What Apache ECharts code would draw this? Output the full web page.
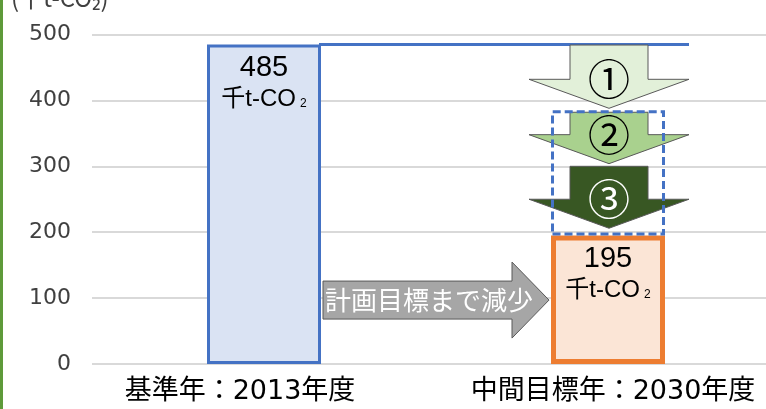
<!DOCTYPE html>
<html>
<head>
<meta charset="utf-8">
<script src="https://cdn.jsdelivr.net/npm/echarts@6/dist/echarts.min.js"></script>
<style>html,body{margin:0;padding:0;background:#fff;}#c{width:766px;height:409px;}</style>
</head>
<body>
<div id="c"></div>
<script>
// ---- data ----
const categories = ['基準年：2013年度', '中間目標年：2030年度'];
const emissions = [485, 195];            // 千t-CO2
const remainingGap = ['-', 190];         // dashed box stacked above 2030 bar (195 -> 385)
const yMin = 0, yMax = 500, yStep = 100;
const stepLabels = ['①', '②', '③'];
const stepFrom = [484, 382, 300];        // arrow body top (value)
const stepTo = [388, 304, 206];          // arrow tip (value)
const baselineValue = 485;
const reductionText = '計画目標まで減少';
const reductionLevel = 97;               // value at which the grey arrow sits
const unitTitle = '(千t-CO₂)';

// ---- styles ----
const CJK = '"Noto Sans CJK JP", "Noto Sans", sans-serif';
const LAT = '"Liberation Sans", "Noto Sans CJK JP", sans-serif';
const NUM = '"DejaVu Sans", "Noto Sans CJK JP", sans-serif';
const BAR_W = 114;
const stepFill = ['#E2F0D9', '#A9D18E', '#385723'];
const stepText = ['#000', '#000', '#fff'];

const chart = echarts.init(document.getElementById('c'), null, {renderer: 'canvas'});

const barLabel = {
  show: true,
  position: 'insideTop',
  distance: 8,
  formatter: p => `{v|${p.value}}\n{u|千t-CO}{s|2}`,
  rich: {
    v: {fontSize: 29, lineHeight: 32, fontFamily: LAT, color: '#000'},
    u: {fontSize: 24, lineHeight: 30, fontFamily: LAT, color: '#000'},
    s: {fontSize: 12, lineHeight: 30, fontFamily: LAT, color: '#000', padding: [8, 0, 0, 4]}
  }
};

const option = {
  animation: false,
  backgroundColor: '#fff',
  title: {
    text: unitTitle, left: 6, top: -19,
    textStyle: {fontSize: 24, fontWeight: 'normal', color: '#404040', fontFamily: CJK}
  },
  graphic: [{
    type: 'line', shape: {x1: 1.5, y1: 0, x2: 1.5, y2: 409},
    style: {stroke: '#5E9A3A', lineWidth: 3}, silent: true
  }],
  grid: {left: 92, top: 34.5, width: 688, height: 329.5, outerBoundsMode: 'none', containLabel: false},
  xAxis: {
    type: 'category', data: categories,
    axisLine: {show: false}, axisTick: {show: false},
    axisLabel: {
      margin: 14, interval: 0,
      formatter: (v, i) => i === 0 ? `{a|${v}}` : `{b|${v}}`,
      rich: {
        a: {fontSize: 27, color: '#000', fontFamily: NUM, padding: [0, 48, 0, 0]},
        b: {fontSize: 27, color: '#000', fontFamily: NUM, padding: [0, 0, 0, 10]}
      }
    }
  },
  yAxis: {
    type: 'value', min: yMin, max: yMax, interval: yStep,
    axisLine: {show: false}, axisTick: {show: false},
    axisLabel: {fontSize: 22, color: '#404040', margin: 21, fontFamily: NUM},
    splitLine: {lineStyle: {color: '#D9D9D9', width: 2}}
  },
  series: [
    {
      type: 'bar', stack: 'total', barWidth: BAR_W, z: 2,
      data: emissions.map((v, i) => ({
        value: v,
        itemStyle: i === 0
          ? {color: '#DAE3F3', borderColor: '#4472C4', borderWidth: 3}
          : {color: '#FBE5D6', borderColor: '#ED7D31', borderWidth: 5}
      })),
      label: barLabel
    },
    {
      type: 'bar', stack: 'total', barWidth: BAR_W, z: 5,
      data: remainingGap,
      itemStyle: {color: 'rgba(0,0,0,0)', borderColor: '#4472C4', borderWidth: 3, borderType: [8, 4]}
    },
    {
      // baseline level line from 2013 bar across to the 2030 column
      type: 'custom', z: 3,
      data: [[0, baselineValue]],
      renderItem: (params, api) => {
        const p0 = api.coord([0, api.value(1)]);
        const p1 = api.coord([1, api.value(1)]);
        return {
          type: 'line',
          shape: {x1: p0[0] + BAR_W / 2 - 2, y1: p0[1], x2: p1[0] + 81, y2: p1[1]},
          style: {stroke: '#4472C4', lineWidth: 3}
        };
      }
    },
    {
      // reduction step arrows
      type: 'custom', z: 4,
      data: stepLabels.map((l, i) => [1, stepFrom[i], stepTo[i], i]),
      renderItem: (params, api) => {
        const i = api.value(3);
        const top = api.coord([1, api.value(1)]);
        const tip = api.coord([1, api.value(2)]);
        const cx = top[0] + 1;
        const headH = 29, bw = 39, hw = 80;
        const yb = tip[1] - headH;
        return {
          type: 'group',
          children: [
            {
              type: 'polygon',
              shape: {points: [[cx - bw, top[1]], [cx + bw, top[1]], [cx + bw, yb], [cx + hw, yb],
                [cx, tip[1]], [cx - hw, yb], [cx - bw, yb]]},
              style: {fill: stepFill[i], stroke: '#595959', lineWidth: 1}
            },
            {
              type: 'text',
              style: {text: stepLabels[i], x: cx, y: yb, align: 'center', verticalAlign: 'middle',
                fontSize: 42, fontFamily: CJK, fill: stepText[i]}
            }
          ]
        };
      }
    },
    {
      // grey "reduce to target" arrow between the two bars
      type: 'custom', z: 4,
      data: [[0, reductionLevel]],
      renderItem: (params, api) => {
        const p0 = api.coord([0, api.value(1)]);
        const p1 = api.coord([1, api.value(1)]);
        const x0 = p0[0] + BAR_W / 2 + 2;
        const xt = p1[0] - BAR_W / 2 - 2;
        const y = p0[1];
        const bh = 19, hh = 38, hl = 37;
        const xb = xt - hl;
        return {
          type: 'group',
          children: [
            {
              type: 'polygon',
              shape: {points: [[x0, y - bh], [xb, y - bh], [xb, y - hh], [xt, y], [xb, y + hh], [xb, y + bh], [x0, y + bh]]},
              style: {fill: '#A6A6A6', stroke: '#595959', lineWidth: 1}
            },
            {
              type: 'text',
              style: {text: reductionText, x: x0 + 2, y: y, align: 'left', verticalAlign: 'middle',
                fontSize: 26, fontFamily: CJK, fill: '#fff'}
            }
          ]
        };
      }
    }
  ]
};
chart.setOption(option);
</script>
</body>
</html>
